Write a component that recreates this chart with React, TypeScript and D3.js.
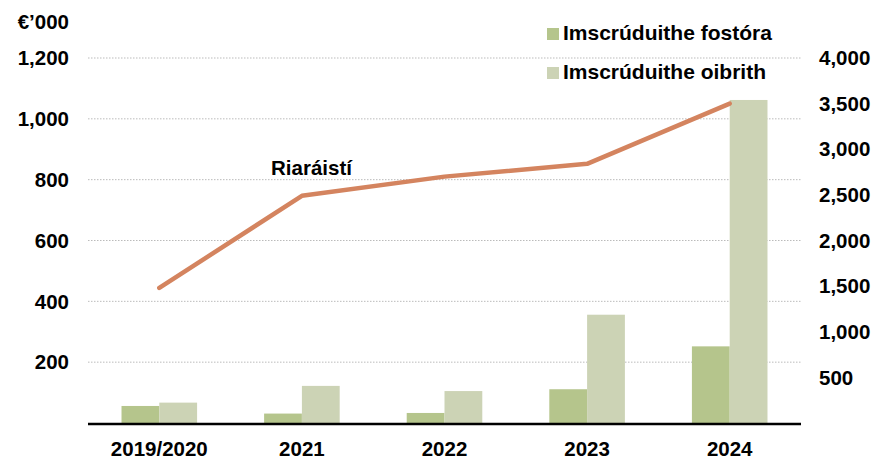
import React from "react";
import * as d3 from "d3";

const categories = ["2019/2020", "2021", "2022", "2023", "2024"];
const fostora = [56, 31, 33, 111, 252];
const oibrith = [67, 122, 105, 356, 1062];
const riaraisti = [1480, 2490, 2700, 2840, 3500];
const leftTicks = [200, 400, 600, 800, 1000, 1200];
const rightTicks = [500, 1000, 1500, 2000, 2500, 3000, 3500, 4000];
const seriesNames = ["Imscrúduithe fostóra", "Imscrúduithe oibrith"];
const lineName = "Riaráistí";

const W = 879, H = 470;
const m = { left: 88, right: 78, top: 58, bottom: 47 };
const FONT = "'Liberation Sans', Arial, sans-serif";
const FS = 20.5;
const C_DARK = "#B5C58C";
const C_LIGHT = "#CCD3B5";
const C_LINE = "#D4845F";

export default function App() {
  const x = d3.scaleBand().domain(categories).range([m.left, W - m.right]).padding(0);
  const yL = d3.scaleLinear().domain([0, 1200]).range([H - m.bottom, m.top]);
  const yR = d3.scaleLinear().domain([0, 4000]).range([H - m.bottom, m.top]);
  const bw = x.bandwidth() * 0.265;
  const line = d3
    .line<number>()
    .x((_, i) => (x(categories[i]) as number) + x.bandwidth() / 2)
    .y((d) => yR(d));

  return (
    <svg width={W} height={H} style={{ position: "absolute", left: 0, top: 0 }} fontFamily={FONT}>
      <rect width={W} height={H} fill="#fff" />
      {leftTicks.map((t) => (
        <g key={t}>
          <line x1={m.left} x2={W - m.right} y1={yL(t)} y2={yL(t)} stroke="#bbb" strokeWidth={1} strokeDasharray="1.5,1.5" />
          <text x={69} y={yL(t)} dy="0.35em" textAnchor="end" fontSize={FS} fontWeight="bold">
            {d3.format(",")(t)}
          </text>
        </g>
      ))}
      <text x={69} y={22} dy="0.35em" textAnchor="end" fontSize={FS} fontWeight="bold">€’000</text>
      {rightTicks.map((t) => (
        <text key={t} x={819} y={yR(t)} dy="0.35em" textAnchor="start" fontSize={FS} fontWeight="bold">
          {d3.format(",")(t)}
        </text>
      ))}
      {categories.map((c, i) => {
        const cx = (x(c) as number) + x.bandwidth() / 2;
        return (
          <g key={c}>
            <rect x={cx - bw} y={yL(fostora[i])} width={bw} height={yL(0) - yL(fostora[i])} fill={C_DARK} />
            <rect x={cx} y={yL(oibrith[i])} width={bw} height={yL(0) - yL(oibrith[i])} fill={C_LIGHT} />
            <text x={cx} y={449} dy="0.35em" textAnchor="middle" fontSize={FS} fontWeight="bold">{c}</text>
          </g>
        );
      })}
      <line x1={m.left} x2={W - m.right} y1={yL(0) + 1} y2={yL(0) + 1} stroke="#000" strokeWidth={2.5} />
      <path d={line(riaraisti) || ""} fill="none" stroke={C_LINE} strokeWidth={4.5} strokeLinecap="round" strokeLinejoin="round" />
      <text x={271} y={168} dy="0.35em" fontSize={FS} fontWeight="bold">{lineName}</text>
      {seriesNames.map((s, i) => (
        <g key={s}>
          <rect x={547} y={28 + i * 39} width={12} height={12} fill={i === 0 ? C_DARK : C_LIGHT} />
          <text x={563} y={33 + i * 39} dy="0.35em" fontSize={21} fontWeight="bold">{s}</text>
        </g>
      ))}
    </svg>
  );
}
